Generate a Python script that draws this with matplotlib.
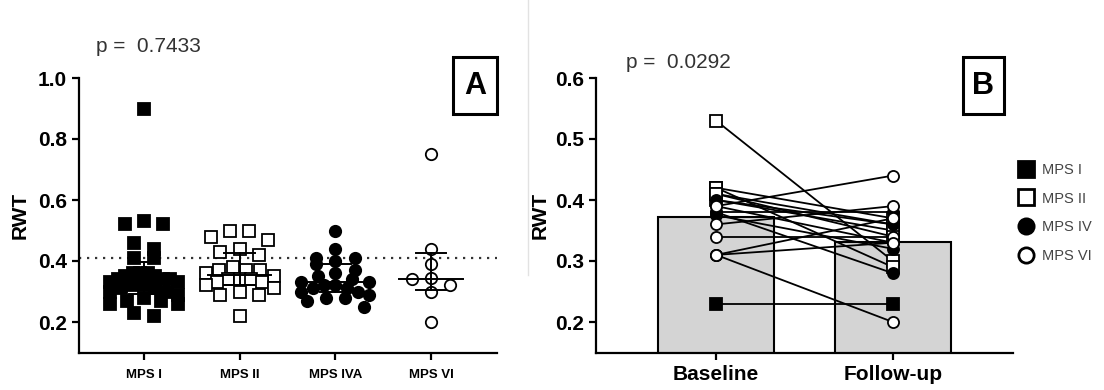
import numpy as np
import matplotlib
matplotlib.use("Agg")
import matplotlib.pyplot as plt
from matplotlib.lines import Line2D
from matplotlib.patches import Rectangle

plt.rcParams['font.family'] = ['Liberation Sans', 'DejaVu Sans']

# ---------------- data: panel A (RWT per MPS type) ----------------
groups_a = ["MPS I", "MPS II", "MPS IVA", "MPS VI"]
rwt_mps1 = [0.90, 0.53, 0.52, 0.52, 0.46, 0.44, 0.41, 0.41, 0.36, 0.36, 0.36,
            0.35, 0.35, 0.34, 0.34, 0.34, 0.33, 0.33, 0.32, 0.32, 0.31, 0.31,
            0.30, 0.30, 0.29, 0.28, 0.27, 0.27, 0.26, 0.26, 0.23, 0.22]
rwt_mps2 = [0.50, 0.50, 0.48, 0.47, 0.44, 0.43, 0.42, 0.38, 0.37, 0.37, 0.37,
            0.36, 0.35, 0.34, 0.34, 0.34, 0.33, 0.33, 0.32, 0.31, 0.30, 0.29,
            0.29, 0.22]
rwt_mps4a = [0.50, 0.44, 0.41, 0.41, 0.40, 0.39, 0.37, 0.36, 0.35, 0.34, 0.33,
             0.33, 0.32, 0.32, 0.31, 0.31, 0.30, 0.30, 0.29, 0.28, 0.28, 0.27,
             0.25]
rwt_mps6 = [0.75, 0.44, 0.39, 0.345, 0.34, 0.32, 0.30, 0.20]
reference_rwt = 0.41
p_text_a = "p =  0.7433"

# ---------------- data: panel B (paired baseline / follow-up) ----------------
time_labels = ["Baseline", "Follow-up"]
mean_rwt = [0.372, 0.331]
pair_groups = ["MPS I",
               "MPS II", "MPS II", "MPS II", "MPS II", "MPS II", "MPS II",
               "MPS IV", "MPS IV", "MPS IV", "MPS IV", "MPS IV",
               "MPS VI", "MPS VI", "MPS VI", "MPS VI", "MPS VI", "MPS VI"]
baseline_rwt = [0.23,
                0.53, 0.42, 0.42, 0.41, 0.40, 0.41,
                0.38, 0.39, 0.38, 0.40, 0.375,
                0.39, 0.36, 0.34, 0.31, 0.31, 0.31]
followup_rwt = [0.23,
                0.30, 0.29, 0.37, 0.36, 0.35, 0.34,
                0.28, 0.33, 0.38, 0.36, 0.32,
                0.44, 0.39, 0.34, 0.20, 0.33, 0.37]
p_text_b = "p =  0.0292"
legend_labels = ["MPS I", "MPS II", "MPS IV", "MPS VI"]

# marker style per group (marker, face colour)
styles = {
    "MPS I": ("s", "black"),
    "MPS II": ("s", "white"),
    "MPS IVA": ("o", "black"),
    "MPS IV": ("o", "black"),
    "MPS VI": ("o", "white"),
}

W, H, DPI = 1104, 390, 100
fig = plt.figure(figsize=(W / DPI, H / DPI), dpi=DPI)

def fx(px):
    return px / W

def fy(py):
    return 1 - py / H


def style_axes(ax):
    for side in ("top", "right"):
        ax.spines[side].set_visible(False)
    for side in ("left", "bottom"):
        ax.spines[side].set_linewidth(1.6)
    ax.tick_params(axis="both", direction="out", length=5, width=1.6,
                   colors="black")
    for lab in ax.get_yticklabels():
        lab.set_fontsize(15)
        lab.set_fontweight("bold")


def row_scatter_x(values, center, px_per_x, row_height, diam, half_width):
    """Column-scatter layout: group close values into rows and spread each
    row symmetrically around the category centre."""
    values = np.asarray(values)
    order = np.argsort(values)[::-1]
    rows, current = [], [order[0]]
    for i in order[1:]:
        if values[current[0]] - values[i] <= row_height:
            current.append(i)
        else:
            rows.append(current)
            current = [i]
    rows.append(current)
    xs = np.zeros(len(values))
    for r in rows:
        n = len(r)
        if n == 1:
            xs[r[0]] = center
            continue
        pitch = min(diam * 1.6, 2 * half_width / (n - 1))
        slots = [(j - (n - 1) / 2) * pitch for j in range(n)]
        # fill slots from the middle outwards, alternating sides
        slots_sorted = sorted(slots, key=lambda s: (abs(s), s))
        for idx, s in zip(r, slots_sorted):
            xs[idx] = center + s / px_per_x
    return xs


# ---------------- panel A ----------------
axA = fig.add_axes([fx(79), fy(352.5), fx(497 - 79), (352.5 - 78) / H])
xlimA = (-0.68, 3.69)
ylimA = (0.1, 1.0)
axA.set_xlim(*xlimA)
axA.set_ylim(*ylimA)
px_x_A = (497 - 79) / (xlimA[1] - xlimA[0])

axA.plot(xlimA, [reference_rwt, reference_rwt], linestyle=(0, (1, 2.6)),
         color="#333333", lw=1.6, zorder=1)

group_values = [rwt_mps1, rwt_mps2, rwt_mps4a, rwt_mps6]
for gi, (name, vals) in enumerate(zip(groups_a, group_values)):
    vals = np.asarray(vals)
    marker, face = styles[name]
    xs = row_scatter_x(vals, gi, px_x_A, 0.035, 12, 34)
    axA.plot(xs, vals, linestyle="none", marker=marker, markersize=8.2,
             markerfacecolor=face, markeredgecolor="black",
             markeredgewidth=1.3, zorder=3)
    q1, med, q3 = np.percentile(vals, [25, 50, 75], method="weibull")
    axA.plot([gi - 0.33, gi + 0.33], [med, med], color="black", lw=1.4, zorder=4)
    axA.plot([gi, gi], [q1, q3], color="black", lw=1.4, zorder=4)
    for q in (q1, q3):
        axA.plot([gi - 0.16, gi + 0.16], [q, q], color="black", lw=1.4, zorder=4)

axA.set_xticks(range(len(groups_a)))
axA.set_xticklabels(groups_a, fontsize=9.5, fontweight="bold")
axA.set_yticks([0.2, 0.4, 0.6, 0.8, 1.0])
axA.set_yticklabels(["0.2", "0.4", "0.6", "0.8", "1.0"])
style_axes(axA)
axA.tick_params(axis="x", pad=7)
axA.set_ylabel("RWT", fontsize=15, fontweight="bold", labelpad=6)

# ---------------- panel B ----------------
axB = fig.add_axes([fx(596), fy(352.5), fx(1013 - 596), (352.5 - 78) / H])
xlimB = (-0.68, 1.68)
axB.set_xlim(*xlimB)
axB.set_ylim(0.15, 0.6)

axB.bar([0, 1], mean_rwt, width=0.655, color="#d4d4d4", edgecolor="black",
        linewidth=1.5, zorder=1)

for grp, b, f in zip(pair_groups, baseline_rwt, followup_rwt):
    marker, face = styles[grp]
    axB.plot([0, 1], [b, f], color="black", lw=1.3, marker=marker,
             markersize=8, markerfacecolor=face, markeredgecolor="black",
             markeredgewidth=1.3, zorder=3)

axB.set_xticks([0, 1])
axB.set_xticklabels(time_labels, fontsize=15, fontweight="bold")
axB.set_yticks([0.2, 0.3, 0.4, 0.5, 0.6])
axB.set_yticklabels(["0.2", "0.3", "0.4", "0.5", "0.6"])
style_axes(axB)
axB.tick_params(axis="x", pad=4)
axB.set_ylabel("RWT", fontsize=15, fontweight="bold", labelpad=4)

# legend for panel B
handles = []
for lab in legend_labels:
    marker, face = styles[lab]
    handles.append(Line2D([], [], linestyle="none", marker=marker,
                          markersize=11, markerfacecolor=face,
                          markeredgecolor="black", markeredgewidth=2))
leg = fig.legend(handles, legend_labels, loc="upper left",
                 bbox_to_anchor=(fx(1019), fy(163)), frameon=False,
                 fontsize=10.5, handlelength=1.0, handletextpad=0.55,
                 labelspacing=1.0, borderpad=0, borderaxespad=0)
for t in leg.get_texts():
    t.set_color("#444444")

# p-values
fig.text(fx(96), fy(47), p_text_a, fontsize=15, color="#333333",
         ha="left", va="center")
fig.text(fx(626), fy(62), p_text_b, fontsize=15, color="#333333",
         ha="left", va="center")

# panel letters in boxes
for (x0, x1), letter in [((453, 497), "A"), ((963, 1004), "B")]:
    fig.add_artist(Rectangle((fx(x0), fy(114)), fx(x1 - x0), (114 - 57) / H,
                             transform=fig.transFigure, fill=False,
                             edgecolor="black", linewidth=2.2))
    fig.text(fx((x0 + x1) / 2), fy(85.5), letter, fontsize=22,
             fontweight="bold", ha="center", va="center")

# thin divider between the two panels
fig.add_artist(Line2D([fx(528), fx(528)], [fy(0), fy(275)],
                      transform=fig.transFigure, color="#e2e2e2", lw=1))

fig.savefig("out.png", dpi=DPI)
